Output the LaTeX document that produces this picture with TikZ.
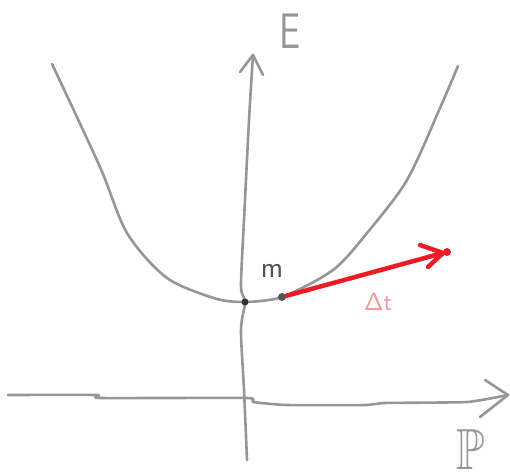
\documentclass[tikz,border=0pt]{standalone}
\usepackage{amssymb}
\definecolor{pen}{RGB}{150,150,150}
\definecolor{darkpen}{RGB}{85,85,85}
\definecolor{redpen}{RGB}{236,28,36}
\definecolor{pinkpen}{RGB}{244,150,150}
\tikzset{
  sketch/.style={pen, line width=2.6pt, line cap=round, line join=round},
  redline/.style={redpen, line width=4.5pt, line cap=round, line join=round},
  lbl/.style={inner sep=0pt, font=\sffamily},
}
\begin{document}
\begin{tikzpicture}[x=1pt,y=-1pt]
\useasboundingbox (0,0) rectangle (510,473);
% named points
\coordinate (vbot) at (247,460);
\coordinate (vtop) at (253,55);
\coordinate (hleft) at (8,395);
\coordinate (hright) at (508,395);
\coordinate (origin) at (245,302);
\coordinate (mpt) at (282,297);
\coordinate (tip) at (443,253);
% vertical axis
\draw[sketch] plot[smooth] coordinates {(vbot) (244,390) (241,330) (245,302) (241,286) (244,220) (249,120) (vtop)};
\draw[sketch] (240,72) -- (vtop) -- (263,75);
% horizontal axis
\draw[sketch] plot[smooth,tension=0.3] coordinates {(hleft) (97,395) (100,398) (247,398) (253,402) (287,405) (367,405) (383,403) (467,402) (hright)};
\draw[sketch] (485,380) -- (hright) -- (480,417);
% hyperbola
\draw[sketch] plot[smooth] coordinates {(52,64) (100,167) (127,233) (167,278) (217,299) (origin)};
\draw[sketch] plot[smooth] coordinates {(origin) (mpt) (333,270) (367,233) (407,180) (440,108) (458,66)};
% red arrow
\draw[redline] (mpt) -- (tip);
\draw[redline] (420,245) -- (tip) -- (428,267);
\fill[redpen] (447,252) circle (4);
% dots
\fill[black!80] (origin) circle (3.5);
\fill[darkpen] (mpt) circle (4);
% labels
\node[lbl, pen, font=\sffamily\fontsize{50}{50}\selectfont, xscale=0.75] (E) at (290,31) {E};
\node[lbl, darkpen, font=\sffamily\fontsize{30}{30}\selectfont] (m) at (272,271) {m};
\node[lbl, pinkpen, font=\fontsize{34}{34}\selectfont] (dt) at (378,302) {$\mathsf{\Delta t}$};
\node[lbl, pen, font=\fontsize{58}{58}\selectfont, xscale=0.8] (P) at (471,450) {$\mathbb{P}$};
\end{tikzpicture}
\end{document}
